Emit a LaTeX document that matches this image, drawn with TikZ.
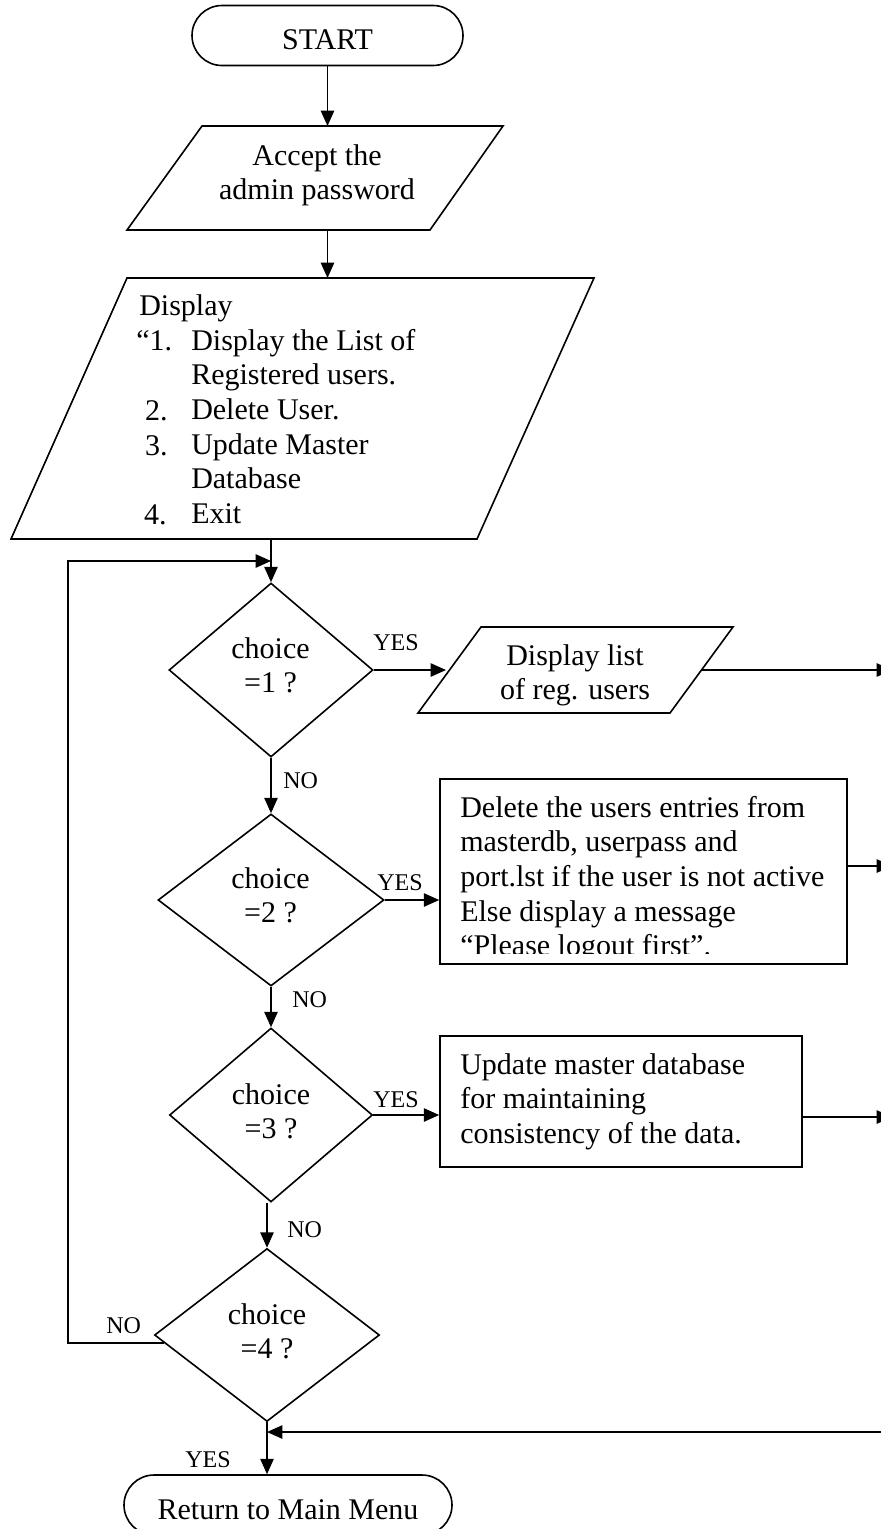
\documentclass[tikz,border=0pt]{standalone}
\usepackage{fontspec}
\setmainfont{Liberation Serif}
\usetikzlibrary{arrows.meta,shapes.geometric,calc}

\newcommand\mainsz{\fontsize{22.5pt}{25.95pt}\selectfont}
\newcommand\labsz{\fontsize{18pt}{20pt}\selectfont}

\tikzset{
  line/.style={line width=1.2pt, line join=miter},
  arr/.style={line width=1.2pt, -{Triangle[length=11.5pt,width=10pt]}},
  term/.style={draw, line width=1.2pt, rectangle, rounded corners=22.5pt,
    minimum height=45pt, inner sep=0pt, text height=21pt, text depth=0pt, font=\mainsz},
  dec/.style={draw, diamond, line width=1.2pt, inner sep=0pt},
  procbox/.style={draw, rectangle, line width=1.2pt, inner sep=0pt},
  txt/.style={inner sep=0pt, font=\mainsz, align=left, anchor=north west},
  ctxt/.style={inner sep=0pt, font=\mainsz, align=center, anchor=north},
  lab/.style={inner sep=0pt, font=\labsz, anchor=base west},
}

\begin{document}
\begin{tikzpicture}[x=0.75pt,y=-0.75pt]
\useasboundingbox (0,0) rectangle (881,1529);
\clip (0,0) rectangle (881,1529);

% ---- start terminal
\node[term, minimum width=203.25pt] (start) at (327.5,35.5) {START};

% ---- input: admin password
\coordinate (a-tl) at (202,126);
\coordinate (a-tr) at (503,126);
\coordinate (a-br) at (430,230);
\coordinate (a-bl) at (127,230);
\draw[line] (a-tl) -- (a-tr) -- (a-br) -- (a-bl) -- cycle;
\node[ctxt] (accept) at (317,140.8) {\strut Accept the\\admin password};
\coordinate (a-in) at (327.5,126);
\coordinate (a-out) at (327.5,230);
\draw[arr] (start.south) -- (a-in);

% ---- menu output
\coordinate (m-tl) at (127,278);
\coordinate (m-tr) at (594,278);
\coordinate (m-br) at (477,539);
\coordinate (m-bl) at (11,539);
\draw[line] (m-tl) -- (m-tr) -- (m-br) -- (m-bl) -- cycle;
\coordinate (m-in) at (327.5,278);
\coordinate (m-out) at (271,539);
\draw[arr] (a-out) -- (m-in);
\node[lab] (menu-head) at (139,315) {\mainsz Display};
\node[lab, anchor=base east] (n1) at (172.5,350) {\mainsz “1.};
\node[lab, anchor=base east] (n2) at (168,420) {\mainsz 2.};
\node[lab, anchor=base east] (n3) at (168,455) {\mainsz 3.};
\node[lab, anchor=base east] (n4) at (167,524) {\mainsz 4.};
\node[txt] (menu-items) at (191,325.8)
  {\strut Display the List of\\Registered users.\\Delete User.\\Update Master\\Database\\Exit};

% ---- decisions
\node[dec, minimum width=153pt, minimum height=130.5pt] (d1) at (271,670) {};
\node[dec, minimum width=169.5pt, minimum height=129pt] (d2) at (271,900) {};
\node[dec, minimum width=152.25pt, minimum height=130.5pt] (d3) at (271,1115) {};
\node[dec, minimum width=168.75pt, minimum height=129.75pt] (d4) at (267,1335) {};
\node[ctxt] (d1t) at (270.5,633.8) {\strut choice\\=1 ?};
\node[ctxt] (d2t) at (270.5,863.8) {\strut choice\\=2 ?};
\node[ctxt] (d3t) at (271,1079.8) {\strut choice\\=3 ?};
\node[ctxt] (d4t) at (267,1299.8) {\strut choice\\=4 ?};

\draw[arr] (m-out) -- (d1.north);
\draw[arr] (d1.south) -- (d2.north);
\draw[arr] (d2.south) -- (d3.north);
\draw[arr] (d4.north |- d3.south) -- (d4.north);

% ---- choice 1: display list
\coordinate (l-tl) at (481,627);
\coordinate (l-tr) at (733,627);
\coordinate (l-br) at (670,713);
\coordinate (l-bl) at (418,713);
\draw[line] (l-tl) -- (l-tr) -- (l-br) -- (l-bl) -- cycle;
\node[ctxt] (listtxt) at (575,640.8) {\strut Display list\\of reg. users};
\coordinate (l-in) at (446,670);
\coordinate (l-out) at (702,670);
\coordinate (e1) at (892,670);
\draw[arr] (d1.east) -- (l-in);
\draw[arr] (l-out) -- (e1);

% ---- choice 2: delete user
\node[procbox, minimum width=305.25pt, minimum height=138.75pt] (del) at (643.5,871.5) {};
\begin{scope}
  \clip (440,779) rectangle (847,953);
  \node[txt] (deltxt) at (460,792.8)
    {\strut Delete the users entries from\\masterdb, userpass and\\port.lst if the user is not active\\Else display a message\\“Please logout first”.};
\end{scope}
\coordinate (del-out) at (847,866);
\coordinate (e2) at (892,866);
\draw[arr] (d2.east) -- (d2.east -| del.west);
\draw[arr] (del-out) -- (e2);

% ---- choice 3: update master database
\node[procbox, minimum width=271.5pt, minimum height=98.25pt] (upd) at (621,1101.5) {};
\node[txt] (updtxt) at (460,1049.8)
  {\strut Update master database\\for maintaining\\consistency of the data.};
\coordinate (upd-out) at (802,1117);
\coordinate (e3) at (892,1117);
\draw[arr] (d3.east) -- (d3.east -| upd.west);
\draw[arr] (upd-out) -- (e3);

% ---- loop back on NO from choice 4
\coordinate (d4-no) at ($(d4.west)!0.09!(d4.south)$);
\coordinate (loop-tl) at (68,561);
\coordinate (loop-end) at (271,561);
\draw[arr] (d4-no) -| (loop-tl) -- (loop-end);

% ---- exit
\node[term, minimum width=246pt] (ret) at (288,1505) {Return to Main Menu};
\coordinate (join-r) at (881,1432);
\coordinate (join) at (267,1432);
\draw[arr] (d4.south) -- (d4.south |- ret.north);
\draw[arr] (join-r) -- (join);

% ---- branch labels
\node[lab] (y1) at (373,650) {YES};
\node[lab] (no1) at (283,788) {NO};
\node[lab] (y2) at (377,890) {YES};
\node[lab] (no2) at (292,1007) {NO};
\node[lab] (y3) at (373,1107) {YES};
\node[lab] (no3) at (287,1237) {NO};
\node[lab] (no4) at (106,1333) {NO};
\node[lab] (y4) at (185,1467) {YES};
\end{tikzpicture}
\end{document}
